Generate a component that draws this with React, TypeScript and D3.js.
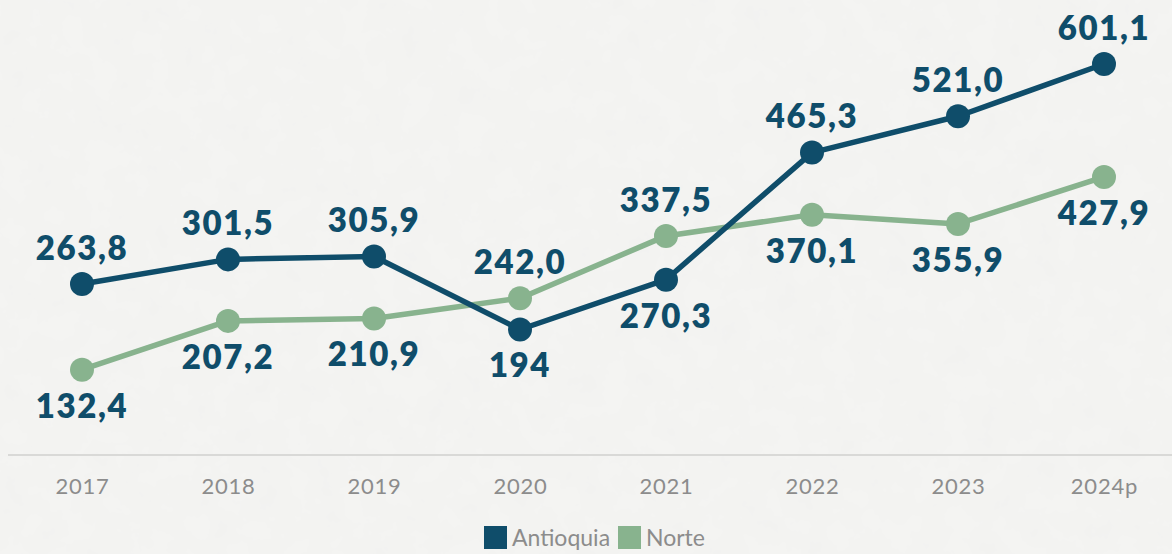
import React, { useEffect, useRef } from 'react';
import * as d3 from 'd3';

const years = ['2017', '2018', '2019', '2020', '2021', '2022', '2023', '2024p'];
const antioquia = [263.8, 301.5, 305.9, 194, 270.3, 465.3, 521.0, 601.1];
const norte = [132.4, 207.2, 210.9, 242.0, 337.5, 370.1, 355.9, 427.9];
const antioquiaLabels = ['263,8', '301,5', '305,9', '194', '270,3', '465,3', '521,0', '601,1'];
const norteLabels = ['132,4', '207,2', '210,9', '242,0', '337,5', '370,1', '355,9', '427,9'];
// label placement: -1 above the point, 1 below
const antioquiaSide = [-1, -1, -1, 1, 1, -1, -1, -1];
const norteSide = [1, 1, 1, -1, -1, 1, 1, 1];

const W = 1172;
const H = 554;

const App = () => {
  const ref = useRef<SVGSVGElement>(null);

  useEffect(() => {
    document.body.style.margin = '0';
    document.body.style.overflow = 'hidden';

    const svg = d3.select(ref.current);
    svg.selectAll('*').remove();

    // paper background
    const defs = svg.append('defs');
    const f = defs.append('filter').attr('id', 'paper').attr('filterUnits', 'userSpaceOnUse')
      .attr('x', 0).attr('y', 0).attr('width', W).attr('height', H);
    f.append('feTurbulence').attr('type', 'fractalNoise').attr('baseFrequency', 0.035).attr('numOctaves', 4).attr('seed', 3).attr('result', 'noise');
    f.append('feColorMatrix').attr('in', 'noise').attr('type', 'matrix')
      .attr('values', '0 0 0 0 0.80  0 0 0 0 0.80  0 0 0 0 0.79  0 0 0 0.24 -0.06');
    svg.append('rect').attr('width', W).attr('height', H).attr('fill', '#f4f4f2');
    svg.append('rect').attr('width', W).attr('height', H).attr('fill', '#fff').attr('filter', 'url(#paper)');

    const x = d3.scalePoint<string>().domain(years).range([82, 1104]);
    const y = d3.scaleLinear().domain([0, 601.1]).range([456, 64]);

    // axis
    svg.append('line').attr('x1', 8).attr('x2', W).attr('y1', 455).attr('y2', 455)
      .attr('stroke', '#d9d9d7').attr('stroke-width', 2);
    const xAxis = d3.axisBottom(x).tickSize(0).tickPadding(0);
    const gx = svg.append('g').attr('transform', 'translate(0,486)').call(xAxis);
    gx.select('.domain').remove();
    gx.selectAll('text')
      .attr('dy', '0.35em')
      .attr('fill', '#8c8c8c')
      .style('font-family', 'Lato, sans-serif')
      .style('font-size', '22px')
      .style('letter-spacing', '0.8px');

    const series = [
      { values: norte, labels: norteLabels, side: norteSide, color: '#88b38e' },
      { values: antioquia, labels: antioquiaLabels, side: antioquiaSide, color: '#0f4d6a' },
    ];

    const line = d3.line<number>().x((_, i) => x(years[i])!).y((d) => y(d));

    series.forEach((s) => {
      svg.append('path').datum(s.values).attr('d', line).attr('fill', 'none')
        .attr('stroke', s.color).attr('stroke-width', 5.5).attr('stroke-linejoin', 'round');
      svg.append('g').selectAll('circle').data(s.values).join('circle')
        .attr('cx', (_, i) => x(years[i])!).attr('cy', (d) => y(d)).attr('r', 12)
        .attr('fill', s.color);
    });

    series.forEach((s) => {
      svg.append('g').selectAll('text').data(s.values).join('text')
        .attr('x', (_, i) => x(years[i])!)
        .attr('y', (d, i) => y(d) + s.side[i] * 36)
        .attr('dy', '0.36em')
        .attr('text-anchor', 'middle')
        .attr('fill', '#0f4d6a')
        .style('font-family', 'Lato, sans-serif')
        .style('font-weight', 800)
        .style('font-size', '33px')
        .style('letter-spacing', '1.6px')
        .text((_, i) => s.labels[i]);
    });

    // legend
    const legend = [
      { name: 'Antioquia', color: '#0f4d6a', x: 484 },
      { name: 'Norte', color: '#88b38e', x: 618 },
    ];
    const lg = svg.append('g').selectAll('g').data(legend).join('g')
      .attr('transform', (d) => `translate(${d.x},526)`);
    lg.append('rect').attr('width', 23).attr('height', 23).attr('fill', (d) => d.color);
    lg.append('text').attr('x', 28).attr('y', 12).attr('dy', '0.34em')
      .attr('fill', '#8c8c8c')
      .style('font-family', 'Lato, sans-serif')
      .style('font-size', '23px')
      .text((d) => d.name);
  }, []);

  return <svg ref={ref} width={W} height={H} style={{ display: 'block', position: 'absolute', left: 0, top: 0 }} />;
};

export default App;
